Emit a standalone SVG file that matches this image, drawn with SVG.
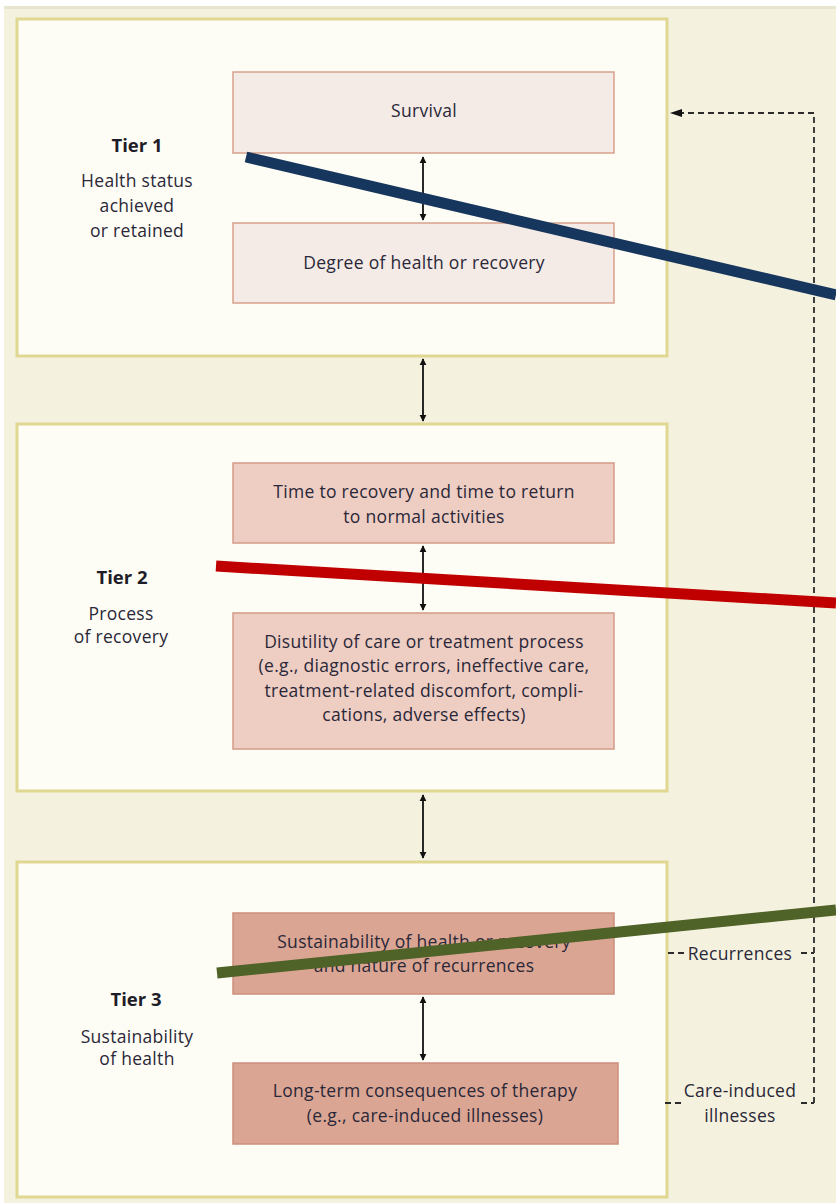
<svg xmlns="http://www.w3.org/2000/svg" width="836" height="1203" viewBox="0 0 836 1203">
  <defs>
    <marker id="ah" viewBox="0 0 10 10" refX="9" refY="5" markerWidth="7" markerHeight="8" markerUnits="userSpaceOnUse" orient="auto-start-reverse">
      <path d="M0,0 L10,5 L0,10 Z" fill="#111"/>
    </marker>
    <style>
      text { font-family: "Open Sans", "Liberation Sans", sans-serif; font-size: 17.5px; letter-spacing: 0.3px; fill: #2a2838; text-anchor: middle; }
      .tier { font-weight: bold; font-size: 18.5px; letter-spacing: 0; fill: #1e1c28; }
      .panel { fill: #fefdf5; stroke: #e0d793; stroke-width: 3; }
      .b1 { fill: #f4eae6; stroke: #d8a08c; stroke-width: 1.5; }
      .b2 { fill: #eecdc3; stroke: #d39b89; stroke-width: 1.5; }
      .b3 { fill: #dba594; stroke: #cc8f7b; stroke-width: 1.5; }
      .dbl { stroke: #111; stroke-width: 1.8; fill: none; marker-start: url(#ah); marker-end: url(#ah); }
      .dash { stroke: #2b2b2b; stroke-width: 1.8; fill: none; stroke-dasharray: 6 4; }
      .mark { fill: none; stroke-width: 11; stroke-linecap: butt; }
    </style>
  </defs>

  <!-- page background -->
  <rect x="0" y="0" width="836" height="1203" fill="#ffffff"/>
  <rect x="4" y="6" width="832" height="1197" fill="#f4f1de"/>
  <rect x="4" y="6" width="832" height="3" fill="#e8e5cf"/>

  <!-- Tier 1 -->
  <g id="tier1">
    <rect class="panel" x="17" y="19" width="650" height="337"/>
    <text class="tier" x="137" y="152">Tier 1</text>
    <text x="137" y="187">Health status</text>
    <text x="137" y="212">achieved</text>
    <text x="137" y="237">or retained</text>
  </g>
  <g id="survival">
    <rect class="b1" x="233" y="72" width="381" height="81"/>
    <text x="424" y="117">Survival</text>
  </g>
  <g id="degree">
    <rect class="b1" x="233" y="223" width="381" height="80"/>
    <text x="424" y="269">Degree of health or recovery</text>
  </g>

  <!-- Tier 2 -->
  <g id="tier2">
    <rect class="panel" x="17" y="424" width="650" height="367"/>
    <text class="tier" x="122" y="584">Tier 2</text>
    <text x="121" y="620">Process</text>
    <text x="121" y="643">of recovery</text>
  </g>
  <g id="time-to-recovery">
    <rect class="b2" x="233" y="463" width="381" height="80"/>
    <text x="424" y="498">Time to recovery and time to return</text>
    <text x="424" y="523">to normal activities</text>
  </g>
  <g id="disutility">
    <rect class="b2" x="233" y="613" width="381" height="136"/>
    <text x="424" y="648">Disutility of care or treatment process</text>
    <text x="424" y="672">(e.g., diagnostic errors, ineffective care,</text>
    <text x="424" y="697">treatment-related discomfort, compli-</text>
    <text x="424" y="721">cations, adverse effects)</text>
  </g>

  <!-- Tier 3 -->
  <g id="tier3">
    <rect class="panel" x="17" y="862" width="650" height="335"/>
    <text class="tier" x="136" y="1006">Tier 3</text>
    <text x="137" y="1043">Sustainability</text>
    <text x="137" y="1065">of health</text>
  </g>
  <g id="sustainability">
    <rect class="b3" x="233" y="913" width="381" height="81"/>
    <text x="424" y="948">Sustainability of health or recovery</text>
    <text x="424" y="972">and nature of recurrences</text>
  </g>
  <g id="long-term">
    <rect class="b3" x="233" y="1063" width="385" height="81"/>
    <text x="425" y="1097">Long-term consequences of therapy</text>
    <text x="425" y="1122">(e.g., care-induced illnesses)</text>
  </g>

  <!-- connectors -->
  <g id="connectors">
    <line class="dbl" x1="423" y1="157" x2="423" y2="220"/>
    <line class="dbl" x1="423" y1="359" x2="423" y2="421"/>
    <line class="dbl" x1="423" y1="546" x2="423" y2="610"/>
    <line class="dbl" x1="423" y1="795" x2="423" y2="858"/>
    <line class="dbl" x1="423" y1="997" x2="423" y2="1060"/>

    <!-- feedback loop back to survival -->
    <path class="dash" d="M814,1103 V113 H680"/>
    <path d="M670,113 L682,109 L682,117 Z" fill="#111"/>
    <path class="dash" d="M668,953 H686 M801,953 H814"/>
    <path class="dash" d="M665,1103 H682 M801,1103 H814"/>
    <text x="740" y="960">Recurrences</text>
    <text x="740" y="1097">Care-induced</text>
    <text x="740" y="1122">illnesses</text>
  </g>

  <!-- overlaid strokes -->
  <g id="overlay">
    <line class="mark" stroke="#17365d" x1="246" y1="157" x2="836" y2="295"/>
    <line class="mark" stroke="#c00000" x1="216" y1="566" x2="836" y2="603"/>
    <line class="mark" stroke="#4f6228" x1="217" y1="973" x2="836" y2="910"/>
  </g>
</svg>
